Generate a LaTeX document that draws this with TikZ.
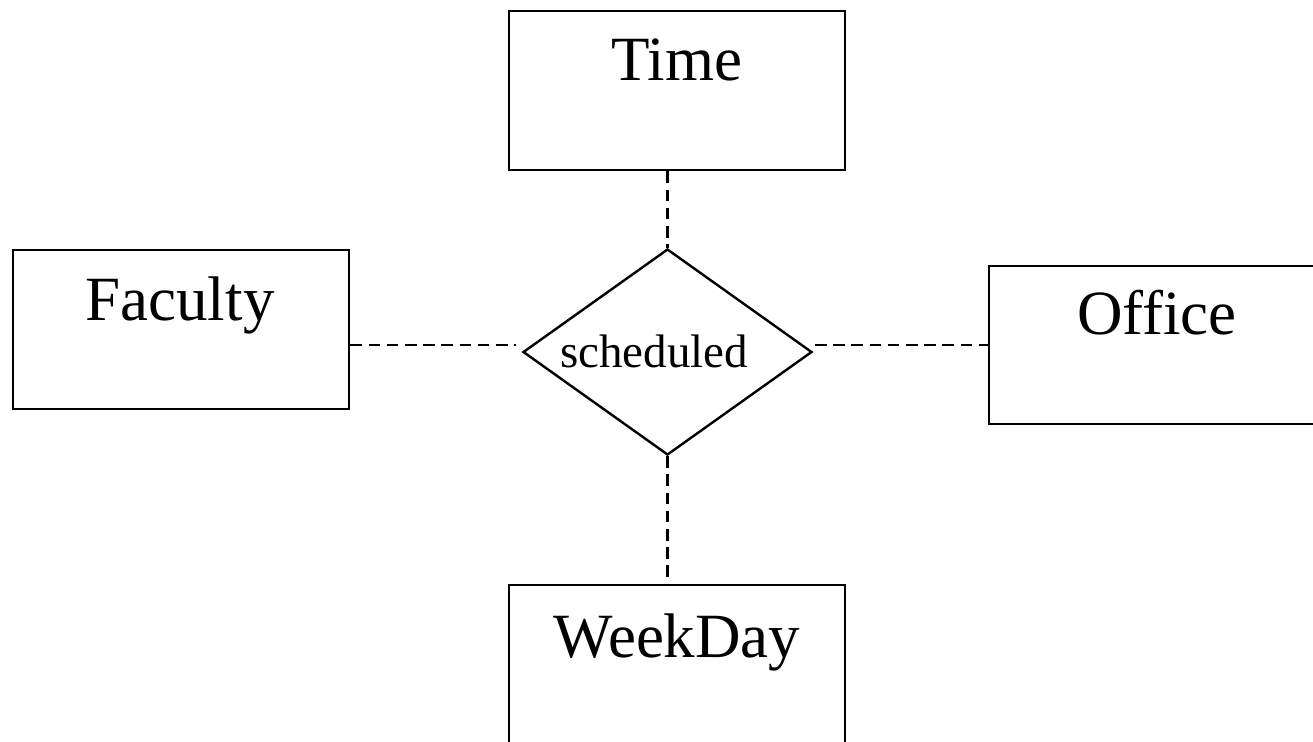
\documentclass[tikz,border=0pt]{standalone}
\usepackage{fontspec}
\setmainfont{Liberation Serif}
\usetikzlibrary{shapes.geometric}
\begin{document}
\begin{tikzpicture}[x=0.5pt,y=-0.5pt,
  entity/.style={draw, line width=1.2pt, rectangle, inner sep=0pt, anchor=north west,
    minimum width=168pt, minimum height=79.5pt},
  etext/.style={anchor=base, inner sep=0pt, font=\fontsize{31.5}{36}\selectfont},
  rel/.style={draw, line width=1.2pt, diamond, inner sep=0pt,
    minimum width=144.5pt, minimum height=103pt},
  rtext/.style={anchor=base, inner sep=0pt, font=\fontsize{23.5}{28}\selectfont},
  conn/.style={line width=1.1pt, dash pattern=on 5.8pt off 3.3pt}]
\useasboundingbox (0,0) rectangle (1313,741);
\clip (0,0) rectangle (1313,741);
% entity boxes
\node[entity] (time) at (508,10) {};
\node[entity] (faculty) at (12,249) {};
\node[entity, minimum height=79pt] (office) at (988,265) {};
\node[entity, minimum height=100pt] (weekday) at (508,584) {};
% texts
\node[etext] (timet) at (677,80) {Time};
\node[etext] (facultyt) at (180,320) {Faculty};
\node[etext] (officet) at (1157,334) {Office};
\node[etext] (weekdayt) at (677,657) {WeekDay};
% relationship
\node[rel] (sched) at (667.5,352) {};
\node[rtext] (schedt) at (654,367) {scheduled};
% connectors
\coordinate (dl) at (516,345);
\coordinate (dr) at (815,345);
\draw[conn] (time.south -| sched.north) -- (sched.north);
\draw[conn] (sched.south) -- (weekday.north -| sched.south);
\draw[conn] (faculty.east |- dl) -- (dl);
\draw[conn] (dr) -- (office.west |- dr);
\end{tikzpicture}
\end{document}
